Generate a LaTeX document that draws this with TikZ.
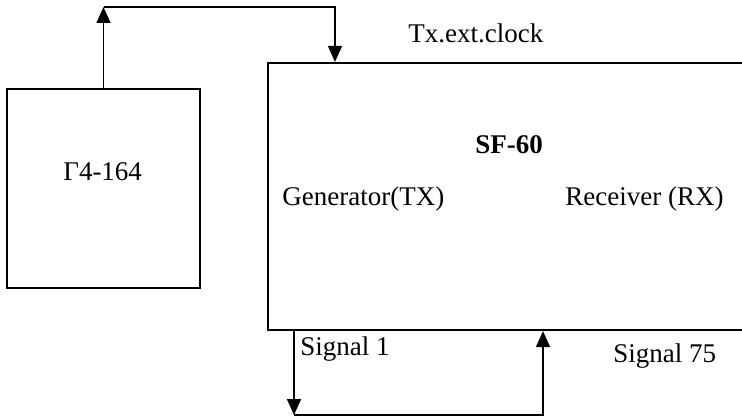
\documentclass[tikz,border=0pt]{standalone}
\usepackage{fontspec}
\setmainfont{Liberation Serif}
\usetikzlibrary{arrows.meta}
\tikzset{
  blok/.style={draw,line width=1.1pt,inner sep=0pt},
  sig/.style={line width=0.8pt,-{Triangle[width=7pt,length=8pt]}},
  lbl/.style={font=\fontsize{13.5}{16}\selectfont,inner sep=0pt,anchor=base west}
}
\begin{document}
\begin{tikzpicture}[x=0.5pt,y=-0.5pt]
  \useasboundingbox (0,0) rectangle (742,417);
  \clip (0,0) rectangle (742,417);
  \node[blok,minimum width=96.5pt,minimum height=99.5pt] (gen) at (103.5,188.5) {};
  \node[blok,minimum width=246pt,minimum height=133.5pt] (sf) at (514,196.5) {};
  \node[lbl] (genlbl) at (63,180) {Γ4-164};
  \node[lbl] (sflbl) at (475,153) {\textbf{SF-60}};
  \node[lbl] (txlbl) at (282,205) {Generator(TX)};
  \node[lbl] (rxlbl) at (565,205) {Receiver (RX)};
  \node[lbl] (clklbl) at (408,43) {Tx.ext.clock};
  \node[lbl] (s1lbl) at (300,355) {Signal 1};
  \node[lbl] (s75lbl) at (613,362) {Signal 75};
  \coordinate (topL) at (103.5,7);
  \coordinate (topR) at (335,7);
  \coordinate (botL) at (294,415);
  \coordinate (botR) at (543,415);
  \draw[sig] (gen.north) -- (topL);
  \draw[sig] (topL) -- (topR) -- (topR |- sf.north);
  \draw[sig] (botL |- sf.south) -- (botL);
  \draw[sig] (botL) -- (botR) -- (botR |- sf.south);
\end{tikzpicture}
\end{document}
